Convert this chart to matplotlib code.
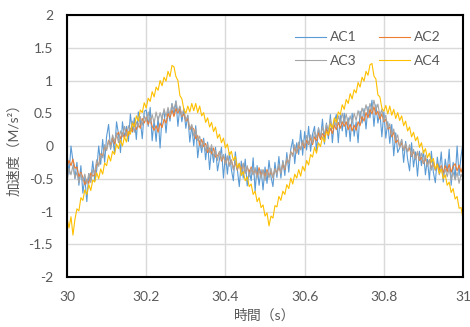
import matplotlib.pyplot as plt
import numpy as np

plt.rcParams['font.family'] = ['Lato', 'Noto Sans CJK JP', 'DejaVu Sans']

# sample times (0.005 s grid, 30 s .. 31 s)
t = np.linspace(30.0, 31.0, 201)

ac1 = [-0.10, -0.43, 0.00, -0.23, -0.50, -0.25, -0.60, -0.30, -0.72, -0.48,
       -0.85, -0.42, -0.53, -0.23, -0.53, -0.37, 0.00, -0.28, 0.10, -0.25,
       0.15, 0.33, -0.05, 0.13, -0.10, 0.37, 0.18, -0.10, 0.37, 0.13,
       0.30, 0.07, 0.49, 0.21, 0.43, 0.10, 0.52, 0.39, 0.11, 0.53,
       0.55, 0.30, 0.59, 0.08, 0.40, 0.07, 0.45, -0.03, 0.46, 0.53,
       0.20, 0.54, 0.38, 0.65, 0.47, 0.69, 0.30, 0.60, 0.37, 0.57,
       0.27, 0.47, 0.06, 0.31, 0.00, 0.31, -0.18, 0.08, -0.10, 0.12,
       -0.21, 0.06, -0.36, -0.03, -0.25, -0.02, -0.38, -0.20, -0.02, -0.49,
       -0.12, -0.43, -0.10, -0.36, -0.53, -0.09, -0.35, -0.62, -0.23, -0.49,
       -0.20, -0.61, -0.37, -0.53, -0.18, -0.69, -0.30, -0.60, -0.36, -0.67,
       -0.32, -0.57, -0.22, -0.47, -0.62, -0.25, -0.48, -0.16, -0.49, -0.22,
       -0.45, -0.10, -0.40, -0.05, 0.10, -0.27, 0.05, -0.13, 0.24, -0.14,
       0.22, -0.06, 0.30, -0.08, 0.18, 0.30, -0.08, 0.28, 0.10, 0.41,
       0.03, 0.35, 0.11, 0.48, 0.05, 0.37, 0.48, 0.05, 0.47, 0.23,
       0.50, 0.14, 0.43, 0.07, 0.50, 0.15, 0.37, 0.05, 0.53, 0.35,
       0.57, 0.26, 0.60, 0.43, 0.70, 0.30, 0.63, 0.35, 0.52, 0.14,
       0.52, 0.12, 0.37, 0.04, 0.33, -0.15, 0.20, -0.10, -0.03, 0.10,
       -0.25, 0.07, -0.20, -0.38, 0.05, -0.32, -0.09, -0.46, -0.08, -0.30,
       -0.07, -0.44, -0.20, -0.52, -0.08, -0.40, -0.56, -0.17, -0.38, -0.09,
       -0.55, -0.20, -0.40, -0.05, -0.60, -0.25, -0.50, 0.00, -0.45, -0.15,
       0.05]

ac2 = [-0.32, -0.22, -0.30, -0.20, -0.34, -0.32, -0.47, -0.40, -0.48, -0.59,
       -0.51, -0.57, -0.41, -0.46, -0.44, -0.27, -0.29, -0.12, -0.15, -0.02,
       -0.05, 0.09, 0.02, 0.13, 0.03, 0.16, 0.21, 0.11, 0.20, 0.12,
       0.25, 0.16, 0.27, 0.22, 0.35, 0.25, 0.34, 0.27, 0.42, 0.35,
       0.44, 0.33, 0.42, 0.30, 0.24, 0.31, 0.21, 0.35, 0.28, 0.41,
       0.35, 0.50, 0.43, 0.55, 0.45, 0.57, 0.50, 0.58, 0.45, 0.49,
       0.38, 0.42, 0.25, 0.29, 0.26, 0.11, 0.16, 0.01, 0.10, -0.01,
       0.04, -0.10, -0.03, -0.12, -0.03, -0.17, -0.15, -0.09, -0.23, -0.15,
       -0.27, -0.17, -0.29, -0.21, -0.34, -0.26, -0.37, -0.27, -0.36, -0.28,
       -0.41, -0.32, -0.40, -0.32, -0.43, -0.36, -0.46, -0.33, -0.45, -0.37,
       -0.47, -0.36, -0.46, -0.39, -0.48, -0.35, -0.41, -0.32, -0.40, -0.27,
       -0.36, -0.21, -0.25, -0.09, -0.13, -0.02, -0.11, 0.01, -0.05, 0.06,
       -0.03, 0.09, 0.02, 0.13, 0.02, 0.14, 0.08, 0.20, 0.10, 0.19,
       0.14, 0.26, 0.16, 0.27, 0.19, 0.32, 0.25, 0.36, 0.27, 0.37,
       0.30, 0.37, 0.25, 0.33, 0.23, 0.32, 0.24, 0.37, 0.31, 0.45,
       0.38, 0.51, 0.43, 0.56, 0.49, 0.60, 0.48, 0.53, 0.41, 0.49,
       0.37, 0.41, 0.26, 0.29, 0.14, 0.21, 0.05, 0.09, -0.01, 0.05,
       -0.06, 0.01, -0.08, -0.03, -0.16, -0.08, -0.19, -0.10, -0.22, -0.17,
       -0.27, -0.19, -0.29, -0.21, -0.33, -0.27, -0.37, -0.27, -0.36, -0.30,
       -0.41, -0.30, -0.39, -0.28, -0.40, -0.31, -0.27, -0.38, -0.29, -0.40,
       -0.30]

ac3 = [-0.55, -0.34, -0.44, -0.30, -0.49, -0.40, -0.56, -0.42, -0.53, -0.43,
       -0.58, -0.42, -0.56, -0.36, -0.40, -0.21, -0.31, -0.13, -0.18, 0.02,
       -0.07, 0.08, -0.03, 0.17, 0.07, 0.20, 0.05, 0.23, 0.14, 0.30,
       0.15, 0.31, 0.22, 0.38, 0.21, 0.37, 0.29, 0.45, 0.32, 0.46,
       0.37, 0.52, 0.35, 0.48, 0.35, 0.52, 0.38, 0.51, 0.40, 0.57,
       0.45, 0.59, 0.47, 0.64, 0.55, 0.68, 0.53, 0.61, 0.46, 0.57,
       0.39, 0.47, 0.26, 0.33, 0.15, 0.26, 0.08, 0.15, -0.03, 0.08,
       -0.08, 0.03, -0.10, 0.02, -0.16, -0.07, -0.22, -0.08, -0.21, -0.13,
       -0.28, -0.15, -0.31, -0.22, -0.37, -0.23, -0.36, -0.26, -0.42, -0.26,
       -0.42, -0.30, -0.47, -0.34, -0.44, -0.33, -0.49, -0.37, -0.49, -0.36,
       -0.53, -0.39, -0.49, -0.34, -0.49, -0.35, -0.44, -0.28, -0.42, -0.24,
       -0.34, -0.18, -0.27, -0.09, -0.16, 0.02, -0.10, 0.06, -0.06, 0.09,
       0.00, 0.16, 0.03, 0.17, 0.05, 0.22, 0.13, 0.27, 0.14, 0.29,
       0.18, 0.33, 0.24, 0.41, 0.27, 0.40, 0.29, 0.46, 0.36, 0.50,
       0.36, 0.49, 0.33, 0.46, 0.35, 0.50, 0.39, 0.54, 0.42, 0.58,
       0.48, 0.63, 0.50, 0.65, 0.54, 0.70, 0.55, 0.64, 0.46, 0.56,
       0.39, 0.47, 0.27, 0.34, 0.17, 0.26, 0.09, 0.17, -0.02, 0.10,
       -0.07, 0.04, -0.09, 0.02, -0.15, -0.05, -0.21, -0.08, -0.20, -0.11,
       -0.26, -0.14, -0.31, -0.21, -0.37, -0.24, -0.37, -0.27, -0.44, -0.32,
       -0.47, -0.35, -0.47, -0.34, -0.52, -0.40, -0.52, -0.40, -0.57, -0.43,
       -0.50]

ac4 = [-1.10, -1.25, -1.08, -1.36, -1.12, -0.96, -0.99, -0.79, -0.83, -0.67,
       -0.74, -0.59, -0.68, -0.52, -0.55, -0.41, -0.50, -0.35, -0.43, -0.26,
       -0.30, -0.14, -0.23, -0.08, -0.13, 0.03, -0.04, 0.09, 0.00, 0.14,
       0.06, 0.22, 0.18, 0.35, 0.29, 0.46, 0.38, 0.55, 0.51, 0.66,
       0.58, 0.73, 0.68, 0.83, 0.75, 0.90, 0.85, 1.00, 0.92, 1.05,
       0.99, 1.14, 1.06, 1.23, 1.21, 1.06, 1.00, 0.77, 0.72, 0.56,
       0.50, 0.61, 0.52, 0.65, 0.54, 0.65, 0.51, 0.61, 0.46, 0.51,
       0.36, 0.43, 0.29, 0.36, 0.22, 0.29, 0.12, 0.18, 0.05, 0.12,
       -0.03, 0.03, -0.14, -0.08, -0.22, -0.16, -0.33, -0.27, -0.45, -0.39,
       -0.53, -0.47, -0.62, -0.58, -0.74, -0.69, -0.85, -0.79, -0.94, -0.90,
       -1.07, -1.02, -1.22, -1.07, -1.10, -0.91, -0.93, -0.77, -0.83, -0.69,
       -0.74, -0.59, -0.65, -0.49, -0.58, -0.43, -0.49, -0.36, -0.46, -0.31,
       -0.38, -0.22, -0.29, -0.13, -0.17, -0.02, -0.11, 0.05, -0.01, 0.14,
       0.06, 0.22, 0.18, 0.34, 0.27, 0.43, 0.36, 0.52, 0.48, 0.63,
       0.56, 0.71, 0.65, 0.80, 0.72, 0.86, 0.81, 0.97, 0.90, 1.05,
       0.99, 1.14, 1.08, 1.24, 1.26, 1.07, 1.02, 0.78, 0.75, 0.58,
       0.53, 0.62, 0.49, 0.61, 0.47, 0.56, 0.42, 0.51, 0.39, 0.46,
       0.31, 0.38, 0.23, 0.29, 0.14, 0.21, 0.08, 0.14, -0.02, 0.05,
       -0.11, -0.04, -0.18, -0.11, -0.25, -0.19, -0.35, -0.28, -0.42, -0.35,
       -0.50, -0.44, -0.60, -0.55, -0.71, -0.65, -0.81, -0.77, -0.95, -0.94,
       -1.12]

series = [('AC1', ac1, '#5B9BD5'), ('AC2', ac2, '#ED7D31'),
          ('AC3', ac3, '#A5A5A5'), ('AC4', ac4, '#FFC000')]

fig = plt.figure(figsize=(4.7, 3.27), dpi=100)
fig.patch.set_facecolor('white')
ax = fig.add_axes([0.1426, 0.1529, 0.8426, 0.8012])

lines = {}
for name, vals, col in series:
    lines[name], = ax.plot(t, vals, color=col, lw=0.8, label=name)

ax.set_xlim(30, 31)
ax.set_ylim(-2, 2)
ax.set_xticks([30, 30.2, 30.4, 30.6, 30.8, 31])
ax.set_xticklabels(['30', '30.2', '30.4', '30.6', '30.8', '31'])
ax.set_yticks([-2, -1.5, -1, -0.5, 0, 0.5, 1, 1.5, 2])
ax.set_yticklabels(['-2', '-1.5', '-1', '-0.5', '0', '0.5', '1', '1.5', '2'])
ax.grid(True, color='#D9D9D9', lw=1.0)
ax.set_axisbelow(True)
ax.tick_params(length=0, labelsize=10, labelcolor='#595959')
ax.tick_params(axis='x', pad=10)
ax.tick_params(axis='y', pad=10)
for s in ax.spines.values():
    s.set_color('black')
    s.set_linewidth(1.5)

ax.set_xlabel('時間（s）', fontsize=10, color='#595959', labelpad=4)
ax.set_ylabel('加速度（M/s²）', fontsize=10, color='#595959', labelpad=6)

# row-wise legend order like Excel: AC1 AC2 / AC3 AC4
order = ['AC1', 'AC3', 'AC2', 'AC4']
leg = ax.legend([lines[k] for k in order], order, ncol=2, loc='upper left',
                bbox_to_anchor=(0.545, 0.985), frameon=False, fontsize=10,
                handlelength=2.2, handletextpad=0.3, columnspacing=1.6,
                labelspacing=0.8)
for txt in leg.get_texts():
    txt.set_color('#595959')

fig.savefig('out.png', dpi=100)
